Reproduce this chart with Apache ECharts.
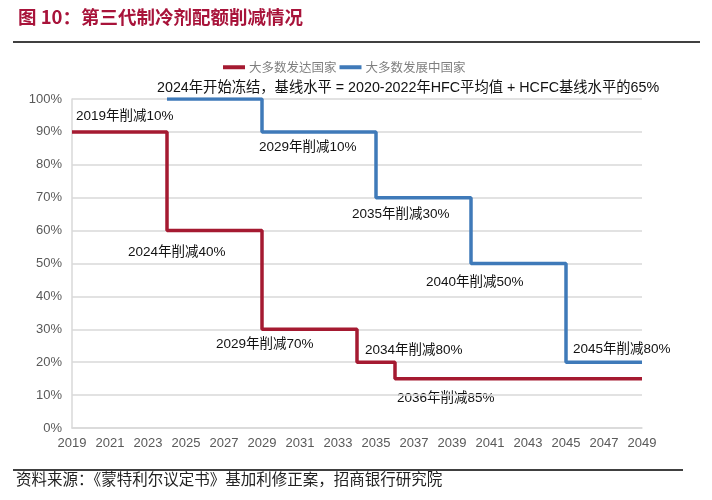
<!DOCTYPE html>
<html><head><meta charset="utf-8">
<script src="https://cdn.jsdelivr.net/npm/echarts@6/dist/echarts.min.js"></script>
<style>html,body{margin:0;padding:0;background:#fff}#c{width:712px;height:500px}</style>
</head><body><div id="c"></div>
<script>
// Data
const seriesNames = ['大多数发达国家', '大多数发展中国家'];
const developedYears = [2019, 2024, 2029, 2034, 2036, 2049];
const developedValues = [90, 60, 30, 20, 15, 15];
const developingYears = [2024, 2029, 2035, 2040, 2045, 2049];
const developingValues = [100, 90, 70, 50, 20, 20];
const yearMin = 2019, yearMax = 2049, yearStep = 2;
const titleText = '图 10：第三代制冷剂配额削减情况';
const sourceText = '资料来源：《蒙特利尔议定书》基加利修正案，招商银行研究院';
const noteTexts = [
  '2024年开始冻结，基线水平 = 2020-2022年HFC平均值 + HCFC基线水平的65%',
  '2019年削减10%', '2029年削减10%', '2024年削减40%', '2035年削减30%',
  '2040年削减50%', '2029年削减70%', '2034年削减80%', '2036年削减85%', '2045年削减80%'
];

const RED = '#A51A31', BLUE = '#3F7AB9';
const CJK = '"Liberation Sans", "Noto Sans CJK SC", sans-serif';
const notePos = [[157,88],[76,116],[259,147],[128,252],[352,214],[426,282],[216,344],[365,350],[397,398],[573,349]];

const chart = echarts.init(document.getElementById('c'), null, {renderer:'canvas'});
const zip = (xs, ys) => xs.map((x, i) => [x, ys[i]]);

const graphics = [
  {type:'text', left:18, top:8, style:{text:titleText, fill:'#A8133A', font:'bold 18.5px "Noto Sans CJK SC", serif'}},
  {type:'line', shape:{x1:13, y1:42, x2:700, y2:42}, style:{stroke:'#000', lineWidth:1.5}},
  {type:'line', shape:{x1:13, y1:470, x2:683, y2:470}, style:{stroke:'#000', lineWidth:1.5}},
  {type:'text', left:16, top:471, style:{text:sourceText, fill:'#222', font:'15.5px "Noto Sans CJK SC", serif'}}
];
noteTexts.forEach((t, i) => {
  graphics.push({type:'text', x:notePos[i][0], y:notePos[i][1], style:{text:t, fill:'#111', font: (i===0?'14.3px ':'13.5px ') + CJK, textVerticalAlign:'middle', verticalAlign:'middle'}});
});

chart.setOption({
  animation:false,
  grid:{left:72, right:70, top:99, bottom:72},
  legend:{
    left:218, top:56, itemWidth:22, itemHeight:4, itemGap:3,
    icon:'rect',
    textStyle:{color:'#7f7f7f', fontSize:12.5, fontFamily:'"Noto Sans CJK SC", sans-serif', padding:[0,0,0,-1]},
    data:seriesNames
  },
  xAxis:{
    type:'value', min:yearMin, max:yearMax, interval:yearStep,
    axisLine:{lineStyle:{color:'#d9d9d9', width:1.5}},
    axisTick:{show:false}, splitLine:{show:false},
    axisLabel:{formatter:v => String(v), color:'#595959', fontSize:13, fontFamily:'"Liberation Sans", Arial, sans-serif', margin:9}
  },
  yAxis:{
    type:'value', min:0, max:100, interval:10,
    axisLine:{show:true, lineStyle:{color:'#d9d9d9', width:1.5}},
    axisTick:{show:false},
    splitLine:{lineStyle:{color:'#d9d9d9', width:1.5}},
    axisLabel:{formatter:'{value}%', color:'#595959', fontSize:13, fontFamily:'"Liberation Sans", Arial, sans-serif', margin:10}
  },
  series:[
    {name:seriesNames[0], type:'line', step:'end', showSymbol:false, symbol:'none',
     data:zip(developedYears, developedValues), lineStyle:{color:RED, width:3.5}, itemStyle:{color:RED}},
    {name:seriesNames[1], type:'line', step:'end', showSymbol:false, symbol:'none',
     data:zip(developingYears, developingValues), lineStyle:{color:BLUE, width:3.5}, itemStyle:{color:BLUE}}
  ],
  graphic:graphics
});
</script></body></html>
